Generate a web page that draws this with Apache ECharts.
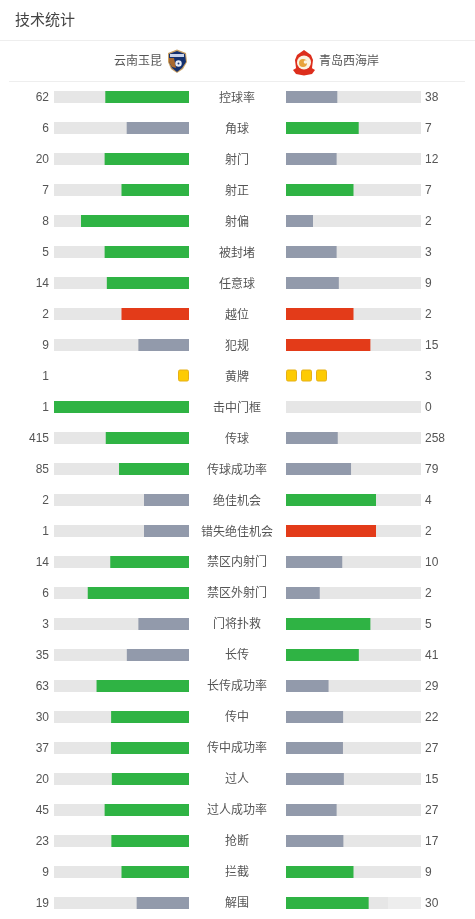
<!DOCTYPE html>
<html>
<head>
<meta charset="utf-8">
<style>html,body{margin:0;padding:0;background:#fff}#c{width:475px;height:919px}</style>
<script src="https://cdn.jsdelivr.net/npm/echarts@6/dist/echarts.min.js"></script>
</head>
<body>
<div id="c"></div>
<script>
const titleText = '技术统计';
const homeTeam = '云南玉昆';
const awayTeam = '青岛西海岸';
const categories = ['控球率','角球','射门','射正','射偏','被封堵','任意球','越位','犯规','黄牌','击中门框','传球','传球成功率','绝佳机会','错失绝佳机会','禁区内射门','禁区外射门','门将扑救','长传','长传成功率','传中','传中成功率','过人','过人成功率','抢断','拦截','解围'];
const homeValues = [62,6,20,7,8,5,14,2,9,1,1,415,85,2,1,14,6,3,35,63,30,37,20,45,23,9,19];
const awayValues = [38,7,12,7,2,3,9,2,15,3,0,258,79,4,2,10,2,5,41,29,22,27,15,27,17,9,30];
const penaltyStats = ['越位','犯规','错失绝佳机会'];
const cardStat = '黄牌';

const GREEN='#2fb344', GREY='#929aab', RED='#e33b19', TRACK='#e6e6e6', TEXT='#555';
const FONT='"Liberation Sans","Noto Sans CJK SC",sans-serif';
const cardRow = categories.indexOf(cardStat);

function share(a,b){const t=a+b;return t?a/t:0;}
function barData(own,other){
  return categories.map((c,i)=>{
    if(c===cardStat) return {value:null};
    const color = own[i]>=other[i] ? (penaltyStats.includes(c)?RED:GREEN) : GREY;
    return {value:share(own[i],other[i]),itemStyle:{color}};
  });
}
const trackData = categories.map(c=>c===cardStat?null:1);

function cardSeries(xAxisIndex,yAxisIndex,count,dir){
  return {
    type:'custom',xAxisIndex,yAxisIndex,z:5,silent:true,
    data:[[0,cardRow]],
    encode:{x:0,y:1},
    renderItem(p,api){
      const o=api.coord([0,cardRow]);
      const kids=[];
      for(let k=0;k<count;k++){
        kids.push({type:'rect',
          shape:{x:o[0]+dir*k*15-(dir<0?10.5:-0.5),y:o[1]-6,width:10,height:11,r:1.5},
          style:{fill:'#fdcb03',stroke:'#e6b017',lineWidth:1}});
      }
      return {type:'group',children:kids};
    }
  };
}

const catAxisBase={type:'category',data:categories,inverse:true,
  axisLine:{show:false},axisTick:{show:false},splitLine:{show:false}};
const valAxisBase={type:'value',min:0,max:1,show:false};
const labelBase={color:TEXT,fontSize:12,fontFamily:FONT,interval:0};

const chart=echarts.init(document.getElementById('c'),null,{renderer:'canvas'});
chart.setOption({
  animation:false,
  backgroundColor:'#fff',
  textStyle:{fontFamily:FONT},
  grid:[
    {left:54,width:135,top:81.5,height:837},
    {left:286,width:135,top:81.5,height:837},
    {left:54,width:135,top:82.5,height:837},
    {left:286,width:135,top:82.5,height:837},
    {left:286,width:135,top:83.5,height:837}
  ],
  xAxis:[
    Object.assign({},valAxisBase,{gridIndex:0,inverse:true}),
    Object.assign({},valAxisBase,{gridIndex:1}),
    Object.assign({},valAxisBase,{gridIndex:2}),
    Object.assign({},valAxisBase,{gridIndex:3}),
    Object.assign({},valAxisBase,{gridIndex:4})
  ],
  yAxis:[
    Object.assign({},catAxisBase,{gridIndex:0,axisLabel:{show:false}}),
    Object.assign({},catAxisBase,{gridIndex:1,axisLabel:{show:false}}),
    Object.assign({},catAxisBase,{gridIndex:2,position:'left',
      axisLabel:Object.assign({},labelBase,{margin:5,formatter:(v,i)=>String(homeValues[i])})}),
    Object.assign({},catAxisBase,{gridIndex:3,position:'right',
      axisLabel:Object.assign({},labelBase,{margin:4,align:'left',formatter:(v,i)=>String(awayValues[i])})}),
    Object.assign({},catAxisBase,{gridIndex:4,position:'left',
      axisLabel:Object.assign({},labelBase,{margin:49,align:'center'})})
  ],
  series:[
    {type:'bar',xAxisIndex:0,yAxisIndex:0,data:trackData,barWidth:12,barGap:'-100%',itemStyle:{color:TRACK},silent:true},
    {type:'bar',xAxisIndex:0,yAxisIndex:0,data:barData(homeValues,awayValues),barWidth:12,barGap:'-100%',silent:true},
    {type:'bar',xAxisIndex:1,yAxisIndex:1,data:trackData,barWidth:12,barGap:'-100%',itemStyle:{color:TRACK},silent:true},
    {type:'bar',xAxisIndex:1,yAxisIndex:1,data:barData(awayValues,homeValues),barWidth:12,barGap:'-100%',silent:true},
    cardSeries(0,0,homeValues[cardRow],-1),
    cardSeries(1,1,awayValues[cardRow],1)
  ],
  graphic:[
    {type:'text',left:15,top:13,style:{text:titleText,font:'15px '+FONT,fill:'#444'}},
    {type:'line',shape:{x1:0,y1:40.5,x2:475,y2:40.5},style:{stroke:'#eeeeee',lineWidth:1}},
    {type:'line',shape:{x1:9,y1:81.5,x2:465,y2:81.5},style:{stroke:'#eeeeee',lineWidth:1}},
    {type:'text',left:114,top:56,style:{text:homeTeam,font:'12px '+FONT,fill:TEXT}},
    {type:'text',left:319,top:56,style:{text:awayTeam,font:'12px '+FONT,fill:TEXT}},
    // home crest
    {type:'polygon',shape:{points:[[168,53],[177,49.5],[186,53],[187,62],[183,69],[177,73],[171,69],[168,62]]},style:{fill:'#c9a063'}},
    {type:'polygon',shape:{points:[[169,54],[177,51],[185,54],[186,62],[182,68],[177,72],[172,68],[169,62]]},style:{fill:'#14306e'}},
    {type:'polygon',shape:{points:[[169,58],[174,58],[176,68],[172,67],[169,62]]},style:{fill:'#a8692e'}},
    {type:'rect',shape:{x:170,y:54,width:14,height:3},style:{fill:'#c9d3ea'}},
    {type:'circle',shape:{cx:178.5,cy:63.5,r:3.2},style:{fill:'#e6ecf6'}},
    {type:'circle',shape:{cx:178.5,cy:63.5,r:1},style:{fill:'#14306e'}},
    // away crest
    {type:'polygon',shape:{points:[[297,55],[304,50],[311,55],[313,60],[312,68],[296,68],[295,60]]},style:{fill:'#dd2e1c'}},
    {type:'polygon',shape:{points:[[293,70],[298,67],[310,67],[315,70],[312,74],[304,75.5],[296,74]]},style:{fill:'#dd2e1c'}},
    {type:'circle',shape:{cx:304,cy:62.5,r:7},style:{fill:'#fbf3e2'}},
    {type:'circle',shape:{cx:303,cy:63,r:4},style:{fill:'#e8a33a'}},
    {type:'circle',shape:{cx:305.5,cy:62,r:1.8},style:{fill:'#fbf3e2'}},
    // faint watermark over the last track
    {type:'rect',z:100,shape:{x:388,y:897,width:33,height:12},style:{fill:'rgba(255,255,255,0.3)'}}
  ]
});
</script>
</body>
</html>
